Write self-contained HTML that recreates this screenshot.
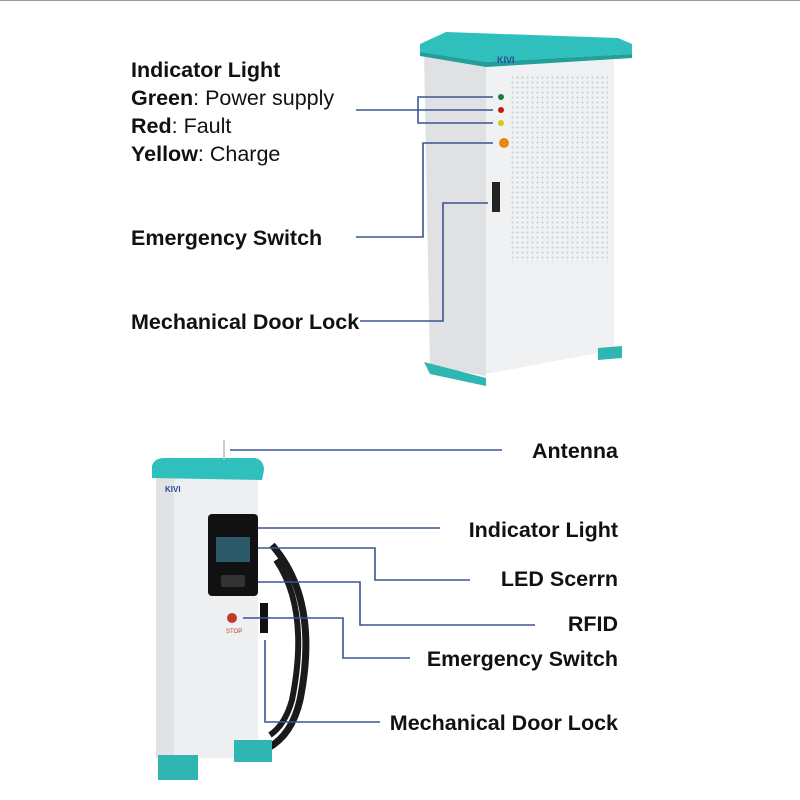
<!DOCTYPE html>
<html><head><style>
body{margin:0;background:#fff;}
svg{display:block;font-family:"Liberation Sans",Arial,sans-serif;}
.b{font-weight:bold;font-size:21.5px;fill:#111;}
.n{font-size:21.5px;fill:#111;}
.l{stroke:#3b5592;stroke-width:1.6;fill:none;}
</style></head><body>
<svg width="800" height="800" viewBox="0 0 800 800">
<defs><pattern id="d" width="5" height="5" patternUnits="userSpaceOnUse"><circle cx="2.5" cy="2.5" r="1" fill="#c8cacd"/></pattern></defs>
<line x1="0" y1="0.5" x2="800" y2="0.5" stroke="#999"/>
<!-- top cabinet -->
<polygon points="424,52 486,60 486,376 430,366" fill="#dfe1e2"/>
<polygon points="486,58 614,52 614,350 486,374" fill="#f0f1f2"/>
<rect x="510" y="76" width="98" height="186" fill="url(#d)"/>
<polygon points="420,44 446,32 618,38 632,44 632,54 486,62 420,52" fill="#2fc0bd"/>
<polygon points="420,52 486,62 632,54 632,58 486,67 420,56" fill="#229e9b"/>
<polygon points="424,362 486,378 486,386 430,374" fill="#2fb5b2"/>
<polygon points="598,348 622,346 622,358 598,360" fill="#2fb5b2"/>
<text x="497" y="63" font-size="9" font-weight="bold" fill="#2a4b9a">KIVI</text>
<circle cx="501" cy="97" r="3" fill="#1f7a3c"/>
<circle cx="501" cy="110" r="3" fill="#c01818"/>
<circle cx="501" cy="123" r="3" fill="#d6c81a"/>
<circle cx="504" cy="143" r="5" fill="#e88a12"/>
<rect x="492" y="182" width="8" height="30" fill="#222"/>
<!-- top labels -->
<text class="b" x="131" y="77">Indicator Light</text>
<text x="131" y="105" class="n"><tspan font-weight="bold">Green</tspan>: Power supply</text>
<text x="131" y="133" class="n"><tspan font-weight="bold">Red</tspan>: Fault</text>
<text x="131" y="161" class="n"><tspan font-weight="bold">Yellow</tspan>: Charge</text>
<text class="b" x="131" y="245">Emergency Switch</text>
<text class="b" x="131" y="329">Mechanical Door Lock</text>
<path class="l" d="M356 110H418M493 97H418V123H493M418 110H493"/>
<path class="l" d="M356 237H423V143H493"/>
<path class="l" d="M360 321H443V203H488"/>
<!-- bottom charger -->
<rect x="156" y="478" width="102" height="280" fill="#eeeff0"/>
<rect x="156" y="478" width="18" height="280" fill="#e0e2e3"/>
<path d="M152 466 Q154 458 165 458 L255 458 Q264 460 264 470 L262 480 L152 478Z" fill="#2fc0bd"/>
<line x1="224" y1="440" x2="224" y2="460" stroke="#bbb" stroke-width="1.5"/>
<rect x="208" y="514" width="50" height="82" rx="4" fill="#111"/>
<rect x="216" y="537" width="34" height="25" fill="#2c5a6a"/>
<rect x="221" y="575" width="24" height="12" rx="2" fill="#333"/>
<circle cx="232" cy="618" r="5" fill="#c23a2a"/>
<text x="226" y="633" font-size="6" fill="#c23a2a">STOP</text>
<rect x="260" y="603" width="8" height="30" fill="#111"/>
<path d="M272 545 Q320 600 300 700 Q292 735 268 748" stroke="#1a1a1a" stroke-width="7" fill="none"/>
<path d="M276 560 Q310 610 292 700 Q285 725 270 735" stroke="#1a1a1a" stroke-width="6" fill="none"/>
<rect x="158" y="755" width="40" height="25" fill="#2fb5b2"/>
<rect x="234" y="740" width="38" height="22" fill="#2fb5b2"/>
<text x="165" y="492" font-size="8" font-weight="bold" fill="#2a4b9a">KIVI</text>
<path class="l" d="M230 450H502"/>
<path class="l" d="M258 528H440"/>
<path class="l" d="M258 548H375V580H470"/>
<path class="l" d="M258 582H360V625H535"/>
<path class="l" d="M243 618H343V658H410"/>
<path class="l" d="M265 640V722H380"/>
<g class="b" text-anchor="end">
<text x="618" y="458">Antenna</text>
<text x="618" y="537">Indicator Light</text>
<text x="618" y="586">LED Scerrn</text>
<text x="618" y="631">RFID</text>
<text x="618" y="666">Emergency Switch</text>
<text x="618" y="730">Mechanical Door Lock</text>
</g>
</svg>
</body></html>
